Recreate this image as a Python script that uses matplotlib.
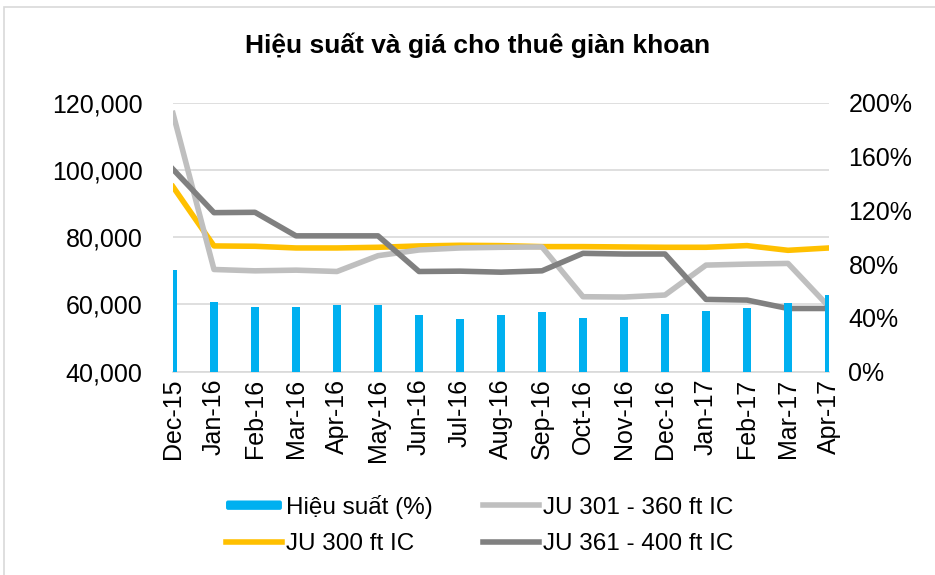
import matplotlib
matplotlib.use("Agg")
import matplotlib.pyplot as plt
import matplotlib.ticker as mticker
from matplotlib.patches import Rectangle, FancyBboxPatch
from matplotlib.legend_handler import HandlerPatch

plt.rcParams['font.family'] = ['Liberation Sans', 'DejaVu Sans']

months = ["Dec-15", "Jan-16", "Feb-16", "Mar-16", "Apr-16", "May-16", "Jun-16",
          "Jul-16", "Aug-16", "Sep-16", "Oct-16", "Nov-16", "Dec-16", "Jan-17",
          "Feb-17", "Mar-17", "Apr-17"]

# utilisation (%), right axis
hieu_suat = [75.6, 51.8, 48.3, 48.3, 49.6, 49.6, 42.2, 39.4, 42.2, 44.6,
             40.2, 40.9, 42.9, 45.4, 47.1, 51.3, 57.0]

# day rates, left axis
ju_300 = [95000, 77400, 77300, 76800, 76800, 77000, 77400, 77600, 77500, 77200,
          77200, 77100, 77000, 77000, 77500, 76100, 76800]
ju_301_360 = [116800, 70400, 70000, 70200, 69800, 74500, 76200, 76800, 77000, 77100,
              62300, 62200, 62800, 71700, 72000, 72200, 59300]
ju_361_400 = [100200, 87300, 87400, 80400, 80400, 80400, 69800, 69900, 69600, 70000,
              75200, 75000, 75000, 61500, 61300, 58800, 58800]

x = list(range(len(months)))


def slim_box(legend, orig_handle, xdescent, ydescent, width, height, fontsize):
    h = height * 0.55
    return FancyBboxPatch((-xdescent, -ydescent + (height - h) / 2), width, h,
                          boxstyle="round,pad=0,rounding_size=1.5")


fig = plt.figure(figsize=(9.35, 5.75), dpi=100)
ax = fig.add_axes([173 / 935, 1 - 371.7 / 575, (829 - 173) / 935, (371.7 - 102.7) / 575])
ax2 = ax.twinx()

grid_col = "#D9D9D9"
l1, = ax.plot(x, ju_300, color="#FFC000", lw=4, solid_joinstyle="round", label="JU 300 ft IC")
l2, = ax.plot(x, ju_301_360, color="#BFBFBF", lw=4, solid_joinstyle="round", label="JU 301 - 360 ft IC")
l3, = ax.plot(x, ju_361_400, color="#808080", lw=4, solid_joinstyle="round", label="JU 361 - 400 ft IC")
bars = ax2.bar(x, hieu_suat, width=0.2, color="#00B0F0", label="Hiệu suất (%)")

ax.set_xlim(0, len(months) - 1)
ax.set_ylim(40000, 120000)
ax.set_yticks(range(40000, 120001, 20000))
ax.yaxis.set_major_formatter(mticker.FuncFormatter(lambda v, p: f"{int(v):,}"))
ax2.set_ylim(0, 200)
ax2.set_yticks(range(0, 201, 40))
ax2.yaxis.set_major_formatter(mticker.FuncFormatter(lambda v, p: f"{int(v)}%"))

ax.set_xticks(x)
ax.set_xticklabels(months, rotation=90)
ax.grid(axis="y", color=grid_col, lw=1.2)
ax.set_axisbelow(True)
for a in (ax, ax2):
    for s in a.spines.values():
        s.set_visible(False)
    a.tick_params(length=0, labelsize=18, colors="black")
ax.spines["bottom"].set_visible(True)
ax.spines["bottom"].set_color(grid_col)
ax.spines["bottom"].set_linewidth(1.2)
ax.tick_params(axis="y", pad=22)
ax.tick_params(axis="x", pad=5)
ax2.tick_params(axis="y", pad=14)

fig.text(0.511, 0.922, "Hiệu suất và giá cho thuê giàn khoan", ha="center", va="center",
         fontsize=19, fontweight="bold")

fig.legend([bars[0], l1, l2, l3], ["Hiệu suất (%)", "JU 300 ft IC", "JU 301 - 360 ft IC", "JU 361 - 400 ft IC"],
           loc="center", bbox_to_anchor=(0.513, 0.087), ncol=2, frameon=False, fontsize=17.5,
           handlelength=2.3, handletextpad=0.15, columnspacing=2.1, labelspacing=0.6,
           borderpad=0, handler_map={bars[0]: HandlerPatch(patch_func=slim_box)})

fig.patches.append(Rectangle((4 / 935, -0.1), 1.1, 1 - 7 / 575 + 0.1, transform=fig.transFigure,
                             fill=False, edgecolor=grid_col, lw=1.2))

fig.savefig("out.png", dpi=100)
